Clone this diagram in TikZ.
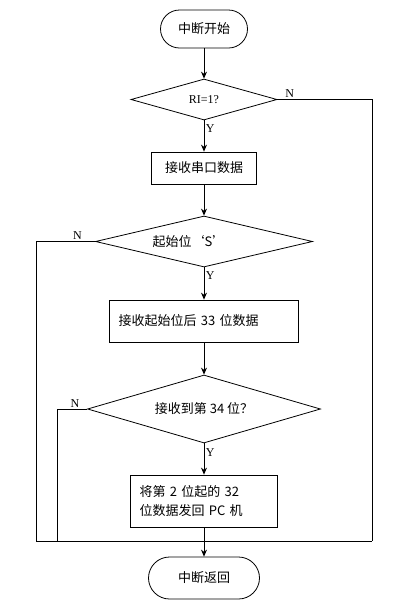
\documentclass[tikz,border=0pt]{standalone}
\usepackage{fontspec}
\setmainfont{Liberation Serif}
\newfontfamily\cjk{Noto Sans CJK SC}
\usetikzlibrary{shapes.geometric,arrows.meta}
\tikzstyle{term}=[shape=rectangle,
                  draw=black,
                  rounded corners=19pt,
                  font=\cjk\fontsize{13}{15}\selectfont]
\tikzstyle{proc}=[shape=rectangle,
                  draw=black,
                  inner sep=9pt,
                  font=\cjk\fontsize{13}{19}\selectfont]
\tikzstyle{dec}=[shape=diamond,
                 draw=black,
                 inner sep=0pt,
                 font=\cjk\fontsize{13}{15}\selectfont]
\tikzstyle{lbl}=[font=\fontsize{12}{12}\selectfont, inner sep=1.5pt]

\begin{document}
\begin{tikzpicture}[x=1pt,y=-1pt,>={Stealth[length=7pt,width=6pt]},line width=0.8pt]
\useasboundingbox (0,0) rectangle (406,603);

% start and end
\node[term, minimum width=87pt, minimum height=38pt] (start) at (204,29) {中断开始};
\node[term, minimum width=111pt, minimum height=42pt, rounded corners=21pt] (stop) at (204,578) {中断返回};

% decisions
\node[dec, aspect=3.56, minimum width=146pt, minimum height=41pt, font=\fontsize{12}{14}\selectfont] (ri) at (204,99.5) {RI=1?};
\node[dec, aspect=4.25, minimum width=217pt, minimum height=51pt] (sbit) at (204,241.5) {\hspace*{-30pt}起始位‘S’};
\node[dec, aspect=3.43, minimum width=233pt, minimum height=68pt] (cnt) at (204,409) {接收到第 34 位？};

% processes
\node[proc, minimum width=105pt, minimum height=32pt] (rxd) at (204,168) {接收串口数据};
\node[proc, minimum height=42pt, text width=171pt, align=left] (rx33) at (204,321) {接收起始位后 33 位数据};
\node[proc, minimum height=52pt, text width=129pt, align=left] (send) at (204,501) {将第 2 位起的 32\\位数据发回 PC 机};

% return lines
\coordinate (rc) at (372,541);
\coordinate (lc) at (36,541);
\coordinate (mc) at (57,541);

% paths
\draw[->] (start) -- (ri);
\draw[->] (ri.south) -- node[lbl, right, pos=0.25] {Y} (rxd.north);
\draw[->] (rxd) -- (sbit);
\draw[->] (sbit.south) -- node[lbl, right, pos=0.25] {Y} (rx33.north);
\draw[->] (rx33) -- (cnt);
\draw[->] (cnt.south) -- node[lbl, right, pos=0.3] {Y} (send.north);
\draw[->] (send) -- (stop);

\draw (ri.east) -- node[lbl, above, pos=0.13] {N} (ri.east -| rc) -- (rc);
\draw (sbit.west) -- node[lbl, above, pos=0.3] {N} (sbit.west -| lc) -- (lc) -- (rc);
\draw (cnt.west) -- node[lbl, above, pos=0.4] {N} (cnt.west -| mc) -- (mc);

\end{tikzpicture}
\end{document}
